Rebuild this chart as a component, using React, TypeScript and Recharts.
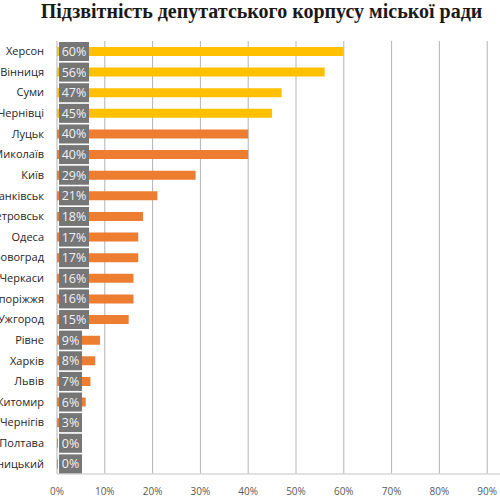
import { BarChart, Bar, XAxis, YAxis, CartesianGrid, Cell, LabelList } from "recharts";

// міста, відсортовані за рівнем підзвітності
const cities = [
  "Херсон",
  "Вінниця",
  "Суми",
  "Чернівці",
  "Луцьк",
  "Миколаїв",
  "Київ",
  "Івано-Франківськ",
  "Дніпропетровськ",
  "Одеса",
  "Кіровоград",
  "Черкаси",
  "Запоріжжя",
  "Ужгород",
  "Рівне",
  "Харків",
  "Львів",
  "Житомир",
  "Чернігів",
  "Полтава",
  "Хмельницький",
];

const shares = [
  0.6, 0.56, 0.47, 0.45, 0.4, 0.4, 0.29, 0.21, 0.18, 0.17, 0.17, 0.16, 0.16,
  0.15, 0.09, 0.08, 0.07, 0.06, 0.03, 0, 0,
];

const xTicks = [0, 0.1, 0.2, 0.3, 0.4, 0.5, 0.6, 0.7, 0.8, 0.9];

// перші чотири міста виділені жовтим
const leaders = 4;

const data = cities.map((city, i) => ({ city, share: shares[i] }));

const pct = (v: number) => `${Math.round(v * 100)}%`;

const edgeTicks = Array.from({ length: cities.length + 1 }, (_, i) => i);

function ValueBox(props: any) {
  const { x, y, height, value } = props;
  const text = pct(value);
  const w = text.length > 2 ? 30 : 23;
  const cy = y + height / 2;
  return (
    <g>
      <rect x={x + 2} y={cy - 9.5} width={w} height={19} fill="#767676" />
      <text
        x={x + 2 + w / 2}
        y={cy}
        textAnchor="middle"
        dominantBaseline="central"
        fill="#f2f2f2"
        fontSize={12.5}
        fontFamily="Open Sans"
      >
        {text}
      </text>
    </g>
  );
}

export default function App() {
  return (
    <div
      style={{
        position: "fixed",
        top: 0,
        left: 0,
        width: 500,
        height: 500,
        overflow: "hidden",
        background: "#fff",
      }}
    >
      <div
        style={{
          position: "absolute",
          left: 23,
          top: 0,
          width: 477,
          textAlign: "center",
          fontFamily: "Liberation Serif",
          fontWeight: "bold",
          fontSize: 20,
          color: "#1a1a1a",
          whiteSpace: "nowrap",
        }}
      >
        Підзвітність депутатського корпусу міської ради
      </div>
      <div style={{ position: "absolute", left: -60, top: 0 }}>
        <BarChart
          width={620}
          height={500}
          data={data}
          layout="vertical"
          margin={{ top: 41, right: 25, bottom: 0, left: 0 }}
        >
          <CartesianGrid horizontal={false} stroke="#b3b3b3" />
          <XAxis
            type="number"
            domain={[0, 1]}
            ticks={xTicks}
            tickFormatter={pct}
            axisLine={{ stroke: "#d9d9d9", strokeWidth: 1.5 }}
            tickLine={false}
            tickMargin={8}
            height={26}
            interval={0}
            tick={{ fill: "#595959", fontSize: 10, fontFamily: "Open Sans" }}
          />
          <YAxis
            yAxisId="edge"
            type="number"
            domain={[0, cities.length]}
            ticks={edgeTicks}
            tick={false}
            tickSize={6}
            tickLine={{ stroke: "#8c8c8c" }}
            axisLine={{ stroke: "#8c8c8c" }}
            width={1}
          />
          <YAxis
            yAxisId="cat"
            type="category"
            dataKey="city"
            width={116}
            axisLine={false}
            tickLine={false}
            tickSize={0}
            tickMargin={13}
            interval={0}
            tick={{ fill: "#262626", fontSize: 11, fontFamily: "Open Sans" }}
          />
          <Bar
            yAxisId="cat"
            dataKey="share"
            barSize={9}
            minPointSize={1}
            isAnimationActive={false}
          >
            {data.map((d, i) => (
              <Cell key={d.city} fill={i < leaders ? "#FFC000" : "#ED7D31"} />
            ))}
            <LabelList dataKey="share" content={ValueBox} />
          </Bar>
        </BarChart>
      </div>
    </div>
  );
}
